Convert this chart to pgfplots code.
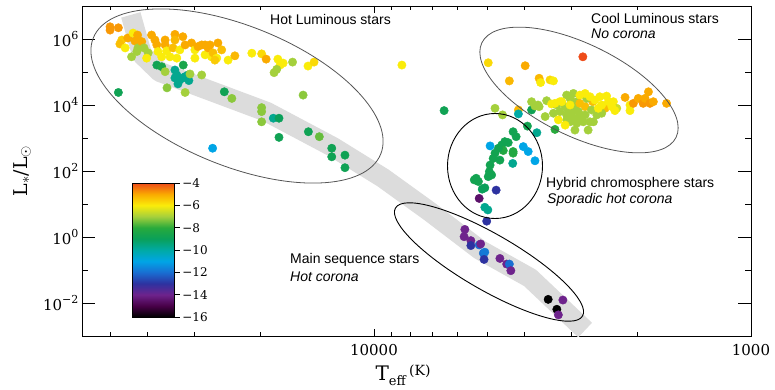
\documentclass[border=0pt]{standalone}
\usepackage{pgfplots}
\pgfplotsset{compat=1.18}
\usepackage{pgfplotstable}
\usepackage{fontspec}
\newfontfamily\sansf{Liberation Sans}
\newfontfamily\dvs{DejaVu Serif}
\definecolor{bandgray}{RGB}{220,220,220}
\definecolor{ellgray}{RGB}{85,85,85}
\newcommand\tp[1]{10\raisebox{0.48em}{\fontsize{11}{11}\selectfont #1}}
\pgfplotstableread{
x y c
4.700 6.37 -4.8
4.700 6.27 -4.8
4.678 6.34 -4.8
4.669 5.97 -5.5
4.674 5.85 -5.3
4.660 5.73 -6
4.653 6.03 -5
4.639 6.18 -6
4.634 5.94 -5
4.627 6.12 -5
4.626 5.73 -7
4.616 5.92 -5
4.610 5.73 -7
4.643 5.46 -7
4.629 5.62 -7
4.599 5.58 -7
4.603 5.42 -6
4.590 6.12 -5
4.581 5.97 -5
4.576 5.82 -5
4.573 5.62 -6
4.563 5.46 -6
4.576 5.21 -8.8
4.563 5.16 -8.5
4.554 5.01 -7
4.554 5.82 -5
4.554 5.97 -5
4.550 5.64 -6
4.541 5.46 -6
4.528 6.14 -5
4.528 5.97 -5.2
4.533 5.73 -5.3
4.515 5.67 -6
4.507 6.07 -5
4.501 5.82 -5
4.523 5.42 -6
4.528 5.06 -9.7
4.523 4.91 -9.7
4.506 5.21 -8.5
4.507 4.82 -9.7
4.493 4.91 -9.7
4.484 5.88 -5
4.475 5.67 -6
4.475 5.42 -6
4.467 5.77 -5
4.457 4.91 -7
4.457 5.82 -5
4.448 5.52 -6
4.440 5.73 -5
4.435 5.82 -5
4.431 5.46 -6
4.427 5.58 -5.3
4.417 5.42 -6
4.414 5.88 -5
4.404 5.67 -5.3
4.387 5.36 -6
4.369 5.49 -5.2
4.324 5.57 -6
4.448 5.82 -5
4.422 5.36 -5.5
4.298 5.55 -5.7
4.286 5.39 -5
4.255 5.39 -6
4.249 5.21 -6
4.241 5.27 -6
4.258 5.08 -7
4.265 4.98 -7
4.216 5.30 -7
4.175 5.18 -6
4.159 5.30 -5.7
4.678 4.38 -8.8
4.528 4.82 -9.7
4.515 4.76 -9.7
4.520 4.64 -9.7
4.501 4.86 -9.7
4.491 4.74 -9.7
4.488 4.94 -7
4.549 4.52 -7.2
4.501 4.38 -7
4.397 4.40 -8.8
4.377 4.20 -7.2
4.298 3.92 -7.2
4.298 3.80 -7.2
4.298 3.49 -7.2
4.267 3.60 -9.7
4.252 3.60 -9
4.252 3.02 -8.8
4.188 4.30 -7.2
4.174 3.19 -8.8
4.145 3.04 -7.5
4.112 2.69 -8.8
4.112 2.43 -8.8
4.077 2.48 -8.8
4.077 2.10 -8.8
4.428 2.69 -11
3.926 5.21 -6
3.814 3.83 -8.8
3.697 5.28 -5.7
3.599 5.19 -5
3.446 5.46 -4
3.641 4.73 -5.2
3.562 4.81 -5.2
3.558 4.68 -6
3.533 4.76 -5.7
3.524 4.73 -6
3.679 3.90 -7
3.659 3.70 -7
3.617 3.85 -5.2
3.617 3.73 -10
3.582 4.10 -7
3.582 3.85 -8.8
3.573 3.97 -7
3.542 4.13 -7
3.546 3.65 -7
3.529 4.03 -6
3.524 3.75 -7
3.520 3.26 -8
3.489 4.30 -7
3.507 4.10 -6
3.467 4.05 -5.3
3.440 3.95 -5.3
3.420 4.10 -5.3
3.387 3.90 -5.3
3.383 4.27 -6
3.365 4.10 -6
3.356 3.90 -6.5
3.334 4.23 -5
3.321 4.00 -6
3.321 3.83 -6
3.312 4.05 -4.8
3.299 4.20 -5
3.286 4.05 -4.8
3.281 4.20 -5
3.272 4.40 -5
3.268 4.05 -4.8
3.259 4.10 -5
3.224 4.05 -5
3.467 3.24 -7
3.432 3.24 -7
3.427 3.49 -7
3.489 3.55 -7
3.454 3.55 -6
3.480 4.20 -7
3.471 4.35 -7
3.462 4.10 -7
3.493 3.95 -7
3.485 3.85 -7
3.476 3.75 -7
3.467 3.90 -7
3.458 3.80 -7
3.489 3.70 -7
3.471 3.60 -7
3.454 3.65 -7
3.440 3.70 -7
3.480 3.49 -7
3.462 3.45 -7
3.445 3.49 -7
3.507 3.80 -7
3.436 4.20 -7
3.423 3.85 -7
3.409 3.70 -7
3.418 3.49 -7
3.396 3.75 -7
3.515 4.00 -7
3.454 4.30 -6
3.440 4.35 -6
3.427 4.25 -6
3.414 4.15 -6
3.401 4.25 -6
3.396 4.00 -6
3.502 4.10 -6
3.520 4.05 -6
3.480 4.00 -6
3.378 4.10 -6
3.369 3.95 -6
3.361 3.83 -6
3.405 3.90 -6
3.511 3.55 -6
3.493 3.39 -6
3.454 4.05 -5.3
3.565 4.00 -7
3.562 3.95 -7
3.568 3.16 -9.7
3.593 3.36 -8.7
3.631 3.19 -8.7
3.623 3.04 -8.7
3.653 2.89 -8.7
3.644 2.86 -8.7
3.661 2.79 -8.7
3.657 2.62 -8.2
3.670 2.69 -8.7
3.679 2.54 -8.7
3.684 2.38 -8.7
3.666 2.33 -8.7
3.692 2.18 -8.7
3.694 1.98 -8.7
3.697 1.83 -8.7
3.688 1.88 -8.7
3.729 1.78 -8.7
3.734 1.73 -8.7
3.723 1.68 -8.7
3.631 2.54 -8.2
3.631 2.59 -8.2
3.632 2.23 -9.7
3.692 2.76 -11
3.604 2.74 -11
3.591 2.59 -11
3.573 2.31 -11
3.706 1.49 -9
3.713 1.45 -9
3.676 1.42 -13
3.721 1.17 -14.5
3.706 0.90 -9.7
3.698 0.82 -9.7
3.701 0.48 -13
3.759 0.23 -14
3.761 0.01 -14
3.743 -0.11 -14
3.743 -0.26 -13
3.721 -0.24 -12
3.717 -0.21 -14
3.710 -0.49 -12
3.706 -0.46 -11.8
3.708 -0.68 -13
3.666 -0.65 -14
3.648 -0.82 -14
3.641 -0.82 -12
3.637 -1.02 -14
3.538 -1.89 -16
3.515 -2.19 -16
3.499 -1.91 -14
3.511 -2.36 -14
}\stars
\begin{document}
\begin{tikzpicture}
\begin{axis}[name=main, scale only axis, width=669pt, height=330pt,
  xmin=3, xmax=4.7745, ymin=-3, ymax=7, x dir=reverse,
  axis line style={line width=0.9pt},
  xtick={3,4}, xticklabels={1000,10000},
  minor xtick={3.301,3.477,3.602,3.699,3.778,3.845,3.903,3.954,4.301,4.477,4.602,4.699},
  ytick={-2,0,2,4,6}, yticklabels={\tp{−2},\tp{0},\tp{2},\tp{4},\tp{6}},
  minor ytick={-1,1,3,5},
  tick align=inside,
  xtick style={line width=0.8pt, black, /pgfplots/major tick length=7pt, /pgfplots/minor tick length=4pt},
  ytick style={line width=0.8pt, black, /pgfplots/major tick length=13pt, /pgfplots/minor tick length=6pt},
  ticklabel style={font=\dvs\fontsize{15}{15}\selectfont},
  xticklabel style={yshift=-5pt},
  colormap={hr}{rgb255=(0,0,0) rgb255=(72,0,72) rgb255=(110,35,140) rgb255=(45,50,160) rgb255=(25,110,210) rgb255=(0,165,230) rgb255=(0,170,165) rgb255=(10,160,90) rgb255=(40,170,60) rgb255=(165,208,60) rgb255=(250,236,10) rgb255=(250,170,0) rgb255=(238,75,25)},
  point meta min=-16, point meta max=-4,
  colorbar,
  colorbar/width=42pt,
  colorbar style={at={(parent axis.south west)}, anchor=south west, xshift=42pt, yshift=19pt,
    height=134pt,
    ytick={-16,-14,...,-4}, yticklabels={−16,−14,−12,−10,−8,−6,−4},
    minor ytick={},
    yticklabel style={font=\dvs\fontsize{12}{12}\selectfont},
    tick align=outside, ytick pos=right,
    ytick style={line width=0.7pt, black, /pgfplots/major tick length=5pt},
    axis line style={line width=0.7pt}},
]
\addplot[bandgray, line width=20pt, line cap=butt, line join=round] coordinates {
 (4.645,6.73) (4.615,5.52) (4.568,5.00) (4.462,4.55) (4.284,3.79) (4.109,2.73)
 (3.976,1.79) (3.851,0.76) (3.719,-0.39) (3.586,-1.24) (3.440,-2.82)};
\addplot[scatter, only marks, mark=*, mark size=4.2pt, point meta=explicit,
  scatter/use mapped color={draw=mapped color, fill=mapped color}]
  table[x=x, y=y, meta=c]{\stars};
\end{axis}
\begin{scope}[shift={(main.north west)}, xshift=-82pt, yshift=6pt, x=1pt, y=-1pt]
\draw[ellgray, line width=0.8pt, rotate around={-22:(237,96)}] (237,96) ellipse [x radius=155pt, y radius=70pt];
\draw[ellgray, line width=0.8pt, rotate around={-26:(579,90)}] (579,90) ellipse [x radius=108pt, y radius=46pt];
\draw[black, line width=0.9pt] (495,166) ellipse [x radius=47.5pt, y radius=52.5pt];
\draw[black, line width=0.9pt, rotate around={-30:(489,262)}] (489,262) ellipse [x radius=108pt, y radius=28pt];
\node[anchor=base west, inner sep=0, font=\sansf\fontsize{14}{14}\selectfont] at (270,25) {Hot Luminous stars};
\node[anchor=base west, inner sep=0, font=\sansf\fontsize{14}{14}\selectfont] at (591,23) {Cool Luminous stars};
\node[anchor=base west, inner sep=0, font=\sansf\itshape\fontsize{14}{14}\selectfont] at (591,39) {No corona};
\node[anchor=base west, inner sep=0, font=\sansf\fontsize{14}{14}\selectfont] at (546,187) {Hybrid chromosphere stars};
\node[anchor=base west, inner sep=0, font=\sansf\itshape\fontsize{14}{14}\selectfont] at (547,203) {Sporadic hot corona};
\node[anchor=base west, inner sep=0, font=\sansf\fontsize{14}{14}\selectfont] at (290,263) {Main sequence stars};
\node[anchor=base west, inner sep=0, font=\sansf\itshape\fontsize{14}{14}\selectfont] at (290,281) {Hot corona};
\node[rotate=90, font=\dvs\fontsize{19}{19}\selectfont] at (22,171) {L$_{\ast}$/L$_{\odot}$};
\node[anchor=base, font=\dvs\fontsize{20}{20}\selectfont, inner sep=0] at (403,380) {T\raisebox{-0.25em}{\fontsize{13}{13}\selectfont eff}\,\raisebox{0.25em}{\fontsize{14}{14}\selectfont (K)}};
\pgfresetboundingbox
\path[use as bounding box] (0,0) rectangle (775,389);
\end{scope}
\end{tikzpicture}
\end{document}
